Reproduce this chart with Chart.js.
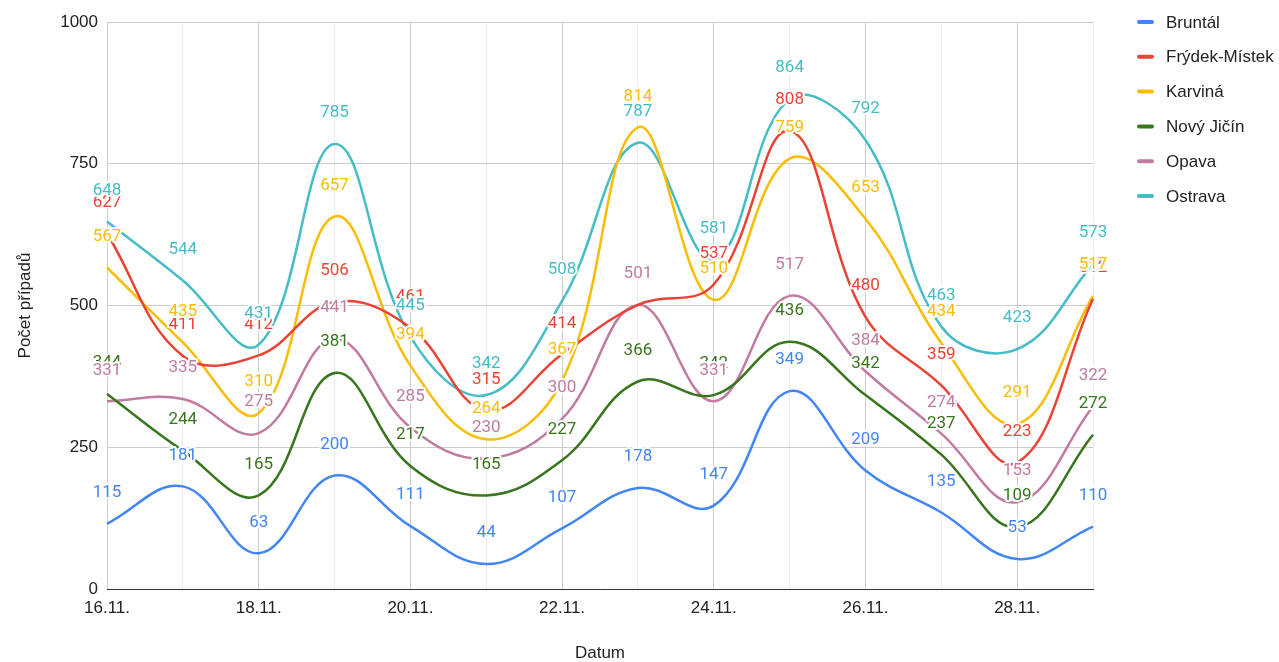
<!DOCTYPE html>
<html>
<head>
<meta charset="utf-8">
<script src="https://cdn.jsdelivr.net/npm/chart.js@4/dist/chart.umd.min.js"></script>
<style>
  html, body { margin: 0; padding: 0; background: #fff; }
  #wrap { width: 1279px; height: 662px; }
</style>
</head>
<body>
<div id="wrap"><canvas id="dataChart" width="1279" height="662"></canvas></div>
<script>
  'use strict';

  const dates = ['16.11.', '17.11.', '18.11.', '19.11.', '20.11.', '21.11.', '22.11.',
                 '23.11.', '24.11.', '25.11.', '26.11.', '27.11.', '28.11.', '29.11.'];
  const yTicks = [0, 250, 500, 750, 1000];

  const bruntal   = [115, 181, 63, 200, 111, 44, 107, 178, 147, 349, 209, 135, 53, 110];
  const frydek    = [627, 411, 412, 506, 461, 315, 414, 501, 537, 808, 480, 359, 223, 512];
  const karvina   = [567, 435, 310, 657, 394, 264, 367, 814, 510, 759, 653, 434, 291, 517];
  const novyJicin = [344, 244, 165, 381, 217, 165, 227, 366, 342, 436, 342, 237, 109, 272];
  const opava     = [331, 335, 275, 441, 285, 230, 300, 501, 331, 517, 384, 274, 153, 322];
  const ostrava   = [648, 544, 431, 785, 445, 342, 508, 787, 581, 864, 792, 463, 423, 573];

  const seriesNames  = ['Bruntál', 'Frýdek-Místek', 'Karviná', 'Nový Jičín', 'Opava', 'Ostrava'];
  const seriesData   = [bruntal, frydek, karvina, novyJicin, opava, ostrava];
  const seriesColors = ['#4285F4', '#EA4335', '#FBBC04', '#38761D', '#C27BA0', '#46BDC6'];

  const LABEL_FONT = 'Roboto, "Noto Sans", sans-serif';
  const AXIS_FONT  = '"Liberation Sans", Arial, sans-serif';

  // value labels above each point, with a white halo like the original
  const valueLabels = {
    id: 'valueLabels',
    afterDatasetsDraw(chart) {
      const ctx = chart.ctx;
      ctx.save();
      ctx.font = '17px ' + LABEL_FONT;
      ctx.textAlign = 'center';
      ctx.textBaseline = 'middle';
      ctx.lineJoin = 'round';
      chart.data.datasets.forEach((ds, i) => {
        const meta = chart.getDatasetMeta(i);
        meta.data.forEach((pt, j) => {
          const txt = String(ds.data[j]);
          const y = pt.y - 31;
          ctx.strokeStyle = '#fff';
          ctx.lineWidth = 4;
          ctx.strokeText(txt, pt.x, y);
          ctx.fillStyle = ds.borderColor;
          ctx.fillText(txt, pt.x, y);
        });
      });
      ctx.restore();
    }
  };

  // legend on the right
  const sideLegend = {
    id: 'sideLegend',
    afterDraw(chart) {
      const ctx = chart.ctx;
      ctx.save();
      ctx.font = '17px ' + AXIS_FONT;
      ctx.textBaseline = 'middle';
      ctx.lineCap = 'round';
      seriesNames.forEach((name, i) => {
        const y = 22 + i * 34.8;
        ctx.strokeStyle = seriesColors[i];
        ctx.lineWidth = 4;
        ctx.beginPath();
        ctx.moveTo(1139, y);
        ctx.lineTo(1152, y);
        ctx.stroke();
        ctx.fillStyle = '#222';
        ctx.fillText(name, 1166, y + 1);
      });
      ctx.restore();
    }
  };

  const ctx = document.getElementById('dataChart').getContext('2d');
  new Chart(ctx, {
    type: 'line',
    data: {
      labels: dates,
      datasets: seriesNames.map((name, i) => ({
        label: name,
        data: seriesData[i],
        borderColor: seriesColors[i],
        backgroundColor: seriesColors[i],
        borderWidth: 2.5,
        pointRadius: 0,
        tension: 0.4,
        fill: false
      }))
    },
    options: {
      responsive: false,
      animation: false,
      layout: { padding: { top: 22, right: 186, bottom: 0, left: 0 } },
      plugins: {
        legend: { display: false },
        tooltip: { enabled: false }
      },
      scales: {
        x: {
          offset: false,
          afterFit: (s) => { s.height = 73; },
          grid: {
            drawTicks: false,
            color: (c) => (c.index % 2 === 0 ? '#cccccc' : '#ececec')
          },
          border: { color: '#333', width: 1 },
          ticks: {
            autoSkip: false,
            maxRotation: 0,
            padding: 9,
            color: '#222',
            font: { family: AXIS_FONT, size: 17 },
            callback: (v, i) => (i % 2 === 0 ? dates[i] : '')
          },
          title: {
            display: true,
            text: 'Datum',
            color: '#222',
            font: { family: AXIS_FONT, size: 17, lineHeight: 1 },
            padding: { top: 0, bottom: 0 }
          }
        },
        y: {
          min: 0,
          max: 1000,
          afterFit: (s) => { s.width = 107; },
          afterBuildTicks: (s) => { s.ticks = yTicks.map(v => ({ value: v })); },
          grid: { drawTicks: false, color: '#cccccc' },
          border: { display: false },
          ticks: {
            padding: 9,
            color: '#222',
            font: { family: AXIS_FONT, size: 17 },
            callback: (v) => String(v)
          },
          title: {
            display: true,
            text: 'Počet případů',
            color: '#222',
            font: { family: AXIS_FONT, size: 17 },
            padding: { top: 15, bottom: 0 }
          }
        }
      }
    },
    plugins: [valueLabels, sideLegend]
  });
</script>
</body>
</html>
